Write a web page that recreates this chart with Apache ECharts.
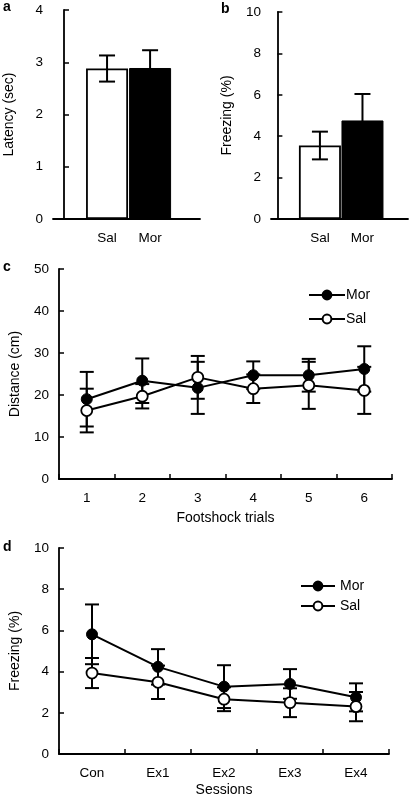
<!DOCTYPE html>
<html><head><meta charset="utf-8">
<script src="https://cdn.jsdelivr.net/npm/echarts@6/dist/echarts.min.js"></script>
<style>html,body{margin:0;padding:0;background:#fff}#c{width:410px;height:798px}</style>
</head><body><div id="c"></div>
<script>
// ---- data ----
const groupsAB = ['Sal', 'Mor'];
const latencyMean = [2.88, 2.89];
const latencySem = [0.25, 0.34];
const freezeMean = [3.55, 4.76];
const freezeSem = [0.67, 1.28];

const trials = ['1', '2', '3', '4', '5', '6'];
const distMor = [19.0, 23.4, 21.7, 24.7, 24.7, 26.2];
const distMorSem = [6.5, 5.3, 6.2, 3.3, 3.9, 5.4];
const distSal = [16.3, 19.7, 24.2, 21.5, 22.3, 21.1];
const distSalSem = [5.2, 2.9, 5.1, 3.4, 5.6, 5.6];

const sessions = ['Con', 'Ex1', 'Ex2', 'Ex3', 'Ex4'];
const frzMor = [5.81, 4.23, 3.27, 3.40, 2.75];
const frzMorSem = [1.45, 0.86, 1.04, 0.72, 0.68];
const frzSal = [3.93, 3.48, 2.66, 2.49, 2.30];
const frzSalSem = [0.73, 0.81, 0.58, 0.70, 0.71];

const yTicksA = [0, 1, 2, 3, 4];
const yTicksB = [0, 2, 4, 6, 8, 10];
const yTicksC = [0, 10, 20, 30, 40, 50];
const yTicksD = [0, 2, 4, 6, 8, 10];

// ---- helpers ----
const FONT = 'Liberation Sans, Arial, sans-serif';
const BLACK = '#000';
const axisLineStyle = { lineStyle: { color: BLACK, width: 1.8 } };
const labelStyle = { color: BLACK, fontSize: 13.5, fontFamily: FONT };
const nameStyle = { color: BLACK, fontSize: 14, fontFamily: FONT };

function yAxisFrom(ticks, gridIndex, name) {
  return {
    type: 'value', gridIndex,
    min: ticks[0], max: ticks[ticks.length - 1], interval: ticks[1] - ticks[0],
    name, nameLocation: 'middle', nameGap: 37,
    nameTextStyle: nameStyle,
    axisLine: Object.assign({ show: true }, axisLineStyle),
    axisTick: { show: true, inside: true, length: 5, lineStyle: { color: BLACK, width: 1.5 } },
    axisLabel: Object.assign({ margin: 10 }, labelStyle),
    splitLine: { show: false }
  };
}

function errRender(capHalf) {
  return function (params, api) {
    const x = api.value(0), y = api.value(1), e = api.value(2);
    const top = api.coord([x, y + e]), bot = api.coord([x, y - e]);
    const style = { stroke: BLACK, lineWidth: 2 };
    return {
      type: 'group', children: [
        { type: 'line', shape: { x1: top[0], y1: top[1], x2: bot[0], y2: bot[1] }, style },
        { type: 'line', shape: { x1: top[0] - capHalf, y1: top[1], x2: top[0] + capHalf, y2: top[1] }, style },
        { type: 'line', shape: { x1: bot[0] - capHalf, y1: bot[1], x2: bot[0] + capHalf, y2: bot[1] }, style }
      ]
    };
  };
}

function barPanel(gridIndex, means, sems) {
  return [
    {
      type: 'bar', xAxisIndex: gridIndex, yAxisIndex: gridIndex, barWidth: 42,
      data: means.map((m, i) => ({
        value: [i + 1, m],
        itemStyle: i === 0 ? { color: '#fff', borderColor: BLACK, borderWidth: 1.8 } : { color: BLACK, borderColor: BLACK, borderWidth: 1 }
      })),
      z: 2, silent: true
    },
    {
      type: 'custom', xAxisIndex: gridIndex, yAxisIndex: gridIndex,
      renderItem: errRender(8), encode: { x: 0, y: 1 },
      data: means.map((m, i) => [i + 1, m, sems[i]]), z: 3, silent: true
    }
  ];
}

function linePanel(gridIndex, mor, morSem, sal, salSem) {
  return [
    {
      type: 'custom', xAxisIndex: gridIndex, yAxisIndex: gridIndex,
      renderItem: errRender(7), encode: { x: 0, y: 1 },
      data: mor.map((v, i) => [i, v, morSem[i]]).concat(sal.map((v, i) => [i, v, salSem[i]])),
      z: 2, silent: true
    },
    {
      name: 'Mor', type: 'line', xAxisIndex: gridIndex, yAxisIndex: gridIndex,
      data: mor, symbol: 'circle', symbolSize: 11,
      lineStyle: { color: BLACK, width: 2 },
      itemStyle: { color: BLACK, borderColor: BLACK, borderWidth: 1 },
      z: 4, silent: true
    },
    {
      name: 'Sal', type: 'line', xAxisIndex: gridIndex, yAxisIndex: gridIndex,
      data: sal, symbol: 'circle', symbolSize: 11,
      lineStyle: { color: BLACK, width: 2 },
      itemStyle: { color: '#fff', borderColor: BLACK, borderWidth: 1.8 },
      z: 5, silent: true
    }
  ];
}

function valueXAxis(gridIndex, min, max) {
  return {
    type: 'value', gridIndex, min, max,
    axisLine: Object.assign({ show: true, onZero: false }, axisLineStyle),
    axisTick: { show: false },
    splitLine: { show: false },
    axisLabel: Object.assign({
      margin: 12, customValues: groupsAB.map((g, i) => i + 1),
      formatter: v => groupsAB[Math.round(v) - 1] || ''
    }, labelStyle)
  };
}

function catXAxis(gridIndex, cats, name, nameGap) {
  return {
    type: 'category', gridIndex, data: cats, boundaryGap: true,
    name, nameLocation: 'middle', nameGap,
    nameTextStyle: nameStyle,
    axisLine: Object.assign({ show: true }, axisLineStyle),
    axisTick: { show: true, inside: true, length: 5, alignWithLabel: false, lineStyle: { color: BLACK, width: 1.5 } },
    axisLabel: Object.assign({ margin: 12 }, labelStyle),
    splitLine: { show: false }
  };
}

const chart = echarts.init(document.getElementById('c'), null, { renderer: 'canvas' });
chart.setOption({
  backgroundColor: '#fff',
  animation: false,
  textStyle: { fontFamily: FONT },
  grid: [
    { left: 53, top: 10, width: 147, height: 209 },
    { left: 271, top: 12, width: 137, height: 207 },
    { left: 53, top: 269, width: 339, height: 210 },
    { left: 53, top: 548, width: 336, height: 207 }
  ],
  xAxis: [
    valueXAxis(0, -0.256, 3.16),
    valueXAxis(1, -0.15, 3.07),
    catXAxis(2, trials, 'Footshock trials', 32),
    catXAxis(3, sessions, 'Sessions', 29)
  ],
  yAxis: [
    yAxisFrom(yTicksA, 0, 'Latency (sec)'),
    yAxisFrom(yTicksB, 1, 'Freezing (%)'),
    yAxisFrom(yTicksC, 2, 'Distance (cm)'),
    yAxisFrom(yTicksD, 3, 'Freezing (%)')
  ],
  legend: [
    {
      left: 303, top: 283, orient: 'vertical', itemWidth: 36, itemHeight: 11, itemGap: 10,
      data: ['Mor', 'Sal'], textStyle: { color: BLACK, fontSize: 14, fontFamily: FONT, padding: [0, 0, 0, -4] },
      selectedMode: false
    },
    {
      left: 295, top: 574, orient: 'vertical', itemWidth: 34, itemHeight: 11, itemGap: 6,
      data: ['Mor', 'Sal'], textStyle: { color: BLACK, fontSize: 14, fontFamily: FONT, padding: [0, 0, 0, 0] },
      selectedMode: false
    }
  ],
  graphic: [
    { type: 'text', left: 3, top: 0, style: { text: 'a', font: 'bold 14px ' + FONT, fill: BLACK } },
    { type: 'text', left: 221, top: 2, style: { text: 'b', font: 'bold 14px ' + FONT, fill: BLACK } },
    { type: 'text', left: 3, top: 260, style: { text: 'c', font: 'bold 14px ' + FONT, fill: BLACK } },
    { type: 'text', left: 3, top: 540, style: { text: 'd', font: 'bold 14px ' + FONT, fill: BLACK } }
  ],
  series: [].concat(
    barPanel(0, latencyMean, latencySem),
    barPanel(1, freezeMean, freezeSem),
    linePanel(2, distMor, distMorSem, distSal, distSalSem),
    linePanel(3, frzMor, frzMorSem, frzSal, frzSalSem)
  )
});
</script>
</body></html>
